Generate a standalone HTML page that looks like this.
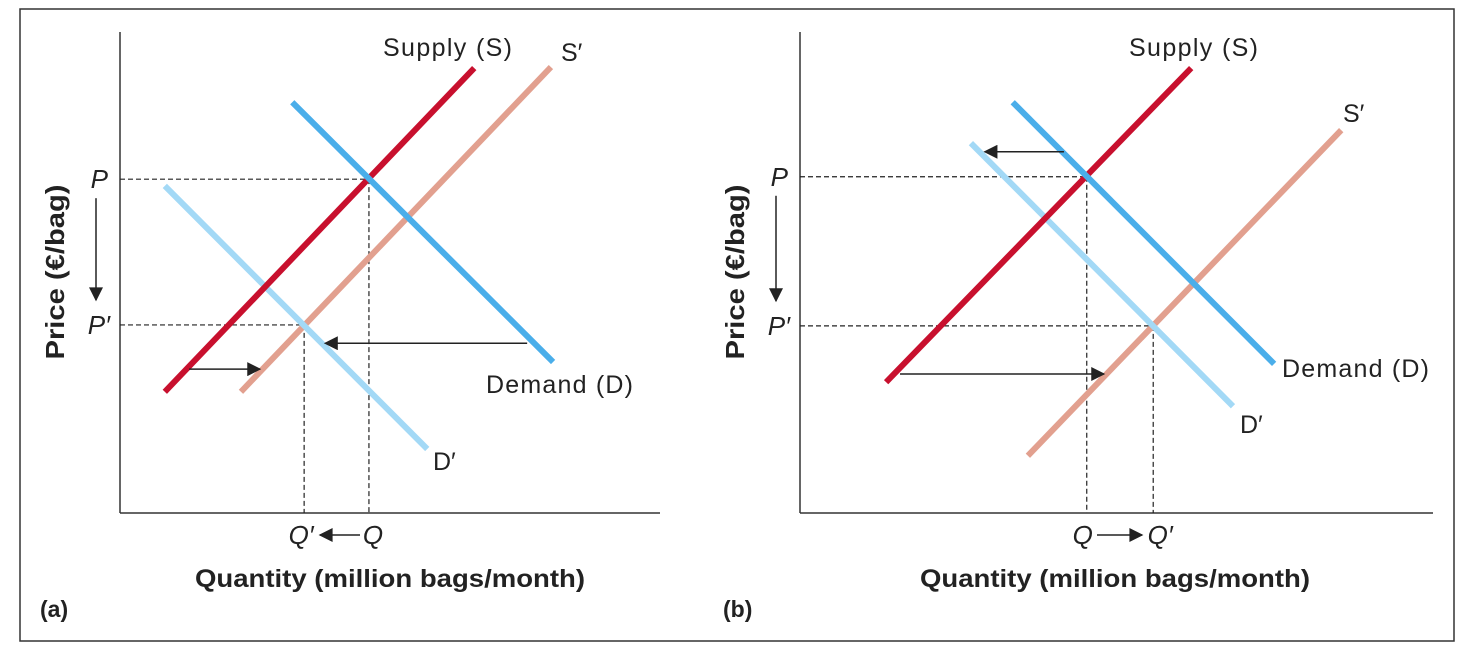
<!DOCTYPE html>
<html><head><meta charset="utf-8"><style>
html,body{margin:0;padding:0;background:#fff;}
svg{display:block;font-family:"Liberation Sans","DejaVu Sans",sans-serif;}
</style></head><body>
<svg id="chart" width="1473" height="661" viewBox="0 0 1473 661">
<defs><marker id="ah" viewBox="0 0 10 10" refX="9" refY="5" markerUnits="userSpaceOnUse" markerWidth="16" markerHeight="14" orient="auto"><path d="M0,0 L10,5 L0,10 z" fill="#222"/></marker></defs>
<rect x="20" y="9" width="1434" height="632" fill="none" stroke="#333" stroke-width="1.5"/>
</svg>
<script>
// Panel (a) data: [q, p] on 0-100 scales
const aSupply=[[8.3,25.2],[65.6,92.5]];
const aSupplyNew=[[22.4,25.2],[79.8,92.7]];
const aDemand=[[31.9,85.4],[80.2,31.4]];
const aDemandNew=[[8.3,68.0],[56.9,13.3]];
const aEq=[46.1,69.4];
const aEqNew=[34.1,39.1];
const aDemandShift=[[75.4,35.3],[38.0,35.3]];
const aSupplyShift=[[12.8,29.9],[25.9,29.9]];
// Panel (b) data
const bSupply=[[13.6,27.2],[61.8,92.5]];
const bSupplyNew=[[36.0,11.9],[85.5,79.6]];
const bDemand=[[33.6,85.4],[74.9,31.0]];
const bDemandNew=[[27.0,76.9],[68.4,22.2]];
const bEq=[45.3,69.9];
const bEqNew=[55.8,38.9];
const bDemandShift=[[41.7,75.1],[29.2,75.1]];
const bSupplyShift=[[15.8,28.9],[48.0,28.9]];

const svg=document.getElementById('chart');
const NS='http://www.w3.org/2000/svg';
function mk(tag,attrs,text){const e=document.createElementNS(NS,tag);for(const k in attrs)e.setAttribute(k,attrs[k]);if(text!==undefined)e.textContent=text;svg.appendChild(e);return e;}

function panel(o){
  const X=v=>o.x0+v*o.w/100, Y=v=>o.y0-v*4.81;
  let e;
  e=mk('line',{x1:o.x0,y1:32,x2:o.x0,y2:o.y0,stroke:'#333','stroke-width':1.5});
  
  
  e=mk('line',{x1:o.x0,y1:o.y0,x2:o.x0+o.w,y2:o.y0,stroke:'#333','stroke-width':1.5});
  
  
  [[o.eq,'eq'],[o.eqNew,'eq-new']].forEach(([pt,n])=>{
    e=mk('line',{x1:o.x0,y1:Y(pt[1]),x2:X(pt[0]),y2:Y(pt[1]),stroke:'#222','stroke-width':1.2,'stroke-dasharray':'5,3'});
    
    
    e=mk('line',{x1:X(pt[0]),y1:Y(pt[1]),x2:X(pt[0]),y2:o.y0,stroke:'#222','stroke-width':1.2,'stroke-dasharray':'5,3'});
    
    
  });
  const lines=[[o.sNew,'#e2a08f','supply-new-line'],[o.dNew,'#a3d9f6','demand-new-line'],[o.s,'#c8102e','supply-line'],[o.d,'#4aaeea','demand-line']];
  lines.forEach(([pts,c,n])=>{
    e=mk('line',{x1:X(pts[0][0]),y1:Y(pts[0][1]),x2:X(pts[1][0]),y2:Y(pts[1][1]),stroke:c,'stroke-width':6});
    
    
  });
  [[o.dShift,'demand-shift-arrow'],[o.sShift,'supply-shift-arrow']].forEach(([pts,n])=>{
    e=mk('line',{x1:X(pts[0][0]),y1:Y(pts[0][1]),x2:X(pts[1][0]),y2:Y(pts[1][1]),stroke:'#222','stroke-width':1.5,'marker-end':'url(#ah)'});
    
    
  });
  e=mk('line',{x1:o.x0-24,y1:Y(o.eq[1])+19,x2:o.x0-24,y2:Y(o.eqNew[1])-25,stroke:'#222','stroke-width':1.5,'marker-end':'url(#ah)'});
  
  
  const lab=(t,x,y,n,extra)=>{e=mk('text',Object.assign({x:x,y:y,'font-size':25,fill:'#222'},extra||{}),t);
    
    };
  lab('P',o.x0-12,Y(o.eq[1])+9,'p-label',{'font-style':'italic','text-anchor':'end','font-size':26});
  lab('P′',o.x0-10,Y(o.eqNew[1])+9,'p-new-label',{'font-style':'italic','text-anchor':'end','font-size':26});
  lab(o.qLeft,X(o.qL)+o.qLdx,544,'q-left-label',{'font-style':'italic','text-anchor':'middle','font-size':26});
  lab(o.qRight,X(o.qR)+o.qRdx,544,'q-right-label',{'font-style':'italic','text-anchor':'middle','font-size':26});
  e=mk('line',{x1:o.qax1,y1:535,x2:o.qax2,y2:535,stroke:'#222','stroke-width':1.5,'marker-end':'url(#ah)'});
  
  
  o.labels.forEach(([t,x,y,n])=>lab(t,x,y,n,{textLength:t.length>3?(t.length>8&&t[0]==='D'?147:129):undefined}));
  lab('Quantity (million bags/month)',o.titleX,587,'x-axis-title',{'font-weight':'bold','text-anchor':'middle','font-size':25,textLength:390,lengthAdjust:'spacingAndGlyphs'});
  lab('Price (€/bag)',0,0,'y-axis-title',{'font-weight':'bold','text-anchor':'middle','font-size':26,textLength:175,lengthAdjust:'spacingAndGlyphs',transform:'translate('+(o.x0-56)+',272) rotate(-90)'});
  lab(o.tag,o.tagX,617,'panel-label',{'font-weight':'bold','font-size':23});
}
panel({id:'a',x0:120,y0:513,w:540,s:aSupply,sNew:aSupplyNew,d:aDemand,dNew:aDemandNew,eq:aEq,eqNew:aEqNew,dShift:aDemandShift,sShift:aSupplyShift,
  qLeft:'Q′',qL:aEqNew[0],qLdx:-3,qRight:'Q',qR:aEq[0],qRdx:4,qax1:360,qax2:320,titleX:390,tag:'(a)',tagX:40,
  labels:[['Supply (S)',383,56,'supply-label'],['S′',561,61,'supply-new-label'],['Demand (D)',486,393,'demand-label'],['D′',433,470,'demand-new-label']]});
panel({id:'b',x0:800,y0:513,w:633,s:bSupply,sNew:bSupplyNew,d:bDemand,dNew:bDemandNew,eq:bEq,eqNew:bEqNew,dShift:bDemandShift,sShift:bSupplyShift,
  qLeft:'Q',qL:bEq[0],qLdx:-4,qRight:'Q′',qR:bEqNew[0],qRdx:7,qax1:1097,qax2:1142,titleX:1115,tag:'(b)',tagX:723,
  labels:[['Supply (S)',1129,56,'supply-label'],['S′',1343,122,'supply-new-label'],['Demand (D)',1282,377,'demand-label'],['D′',1240,433,'demand-new-label']]});
</script>
</body></html>
